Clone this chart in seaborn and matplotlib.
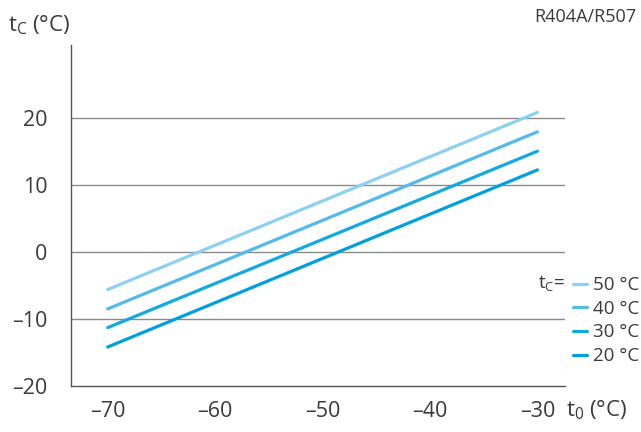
import pandas as pd
import matplotlib
matplotlib.use("Agg")
import matplotlib.pyplot as plt
import seaborn as sns

# data
t0 = [-70, -30]
tc_50 = [-5.6, 20.9]
tc_40 = [-8.5, 18.0]
tc_30 = [-11.3, 15.1]
tc_20 = [-14.2, 12.3]
labels = ["50 °C", "40 °C", "30 °C", "20 °C"]
colors = ["#8dd1f2", "#52bbea", "#13a9e2", "#00a0e0"]
x_ticks = [-70, -60, -50, -40, -30]
y_ticks = [-20, -10, 0, 10, 20]

df = pd.concat([
    pd.DataFrame({"t0": t0, "tc": vals, "cond": lab})
    for vals, lab in zip([tc_50, tc_40, tc_30, tc_20], labels)
])

sns.set_style("white")
plt.rcParams["font.family"] = ["Open Sans", "DejaVu Sans"]
plt.rcParams["mathtext.fontset"] = "custom"
plt.rcParams["mathtext.rm"] = "Open Sans"
plt.rcParams["mathtext.it"] = "Open Sans"

txt = "#3a3a3a"
fig = plt.figure(figsize=(6.41, 4.32), dpi=100)
ax = fig.add_axes([0.111, 0.107, 0.771, 0.789])

for y in [-10, 0, 10, 20]:
    ax.axhline(y, color="#8a8a8a", lw=1.0, zorder=0)

sns.lineplot(data=df, x="t0", y="tc", hue="cond", palette=colors,
             linewidth=2.3, ax=ax, legend=True)

ax.set_xlim(-73.4, -27.4)
ax.set_ylim(-20, 31)
ax.set_xticks(x_ticks)
ax.set_yticks(y_ticks)
ax.set_xticklabels([f"\u2013{abs(v)}" for v in x_ticks])
ax.set_yticklabels([f"\u2013{abs(v)}" if v < 0 else str(v) for v in y_ticks])
ax.tick_params(axis="both", labelsize=15.5, colors="#555555", labelcolor=txt,
               length=7, width=1.0, direction="out")
ax.tick_params(axis="x", pad=4)
ax.tick_params(axis="y", pad=10)
for s in ["top", "right"]:
    ax.spines[s].set_visible(False)
for s in ["left", "bottom"]:
    ax.spines[s].set_color("#555555")
    ax.spines[s].set_linewidth(1.0)
ax.set_xlabel("")
ax.set_ylabel("")

handles, labs = ax.get_legend_handles_labels()
ax.legend(handles, labs, loc="upper left", bbox_to_anchor=(0.882, 0.378),
          bbox_transform=fig.transFigure, frameon=False, fontsize=13.5,
          handlelength=0.75, handletextpad=0.35, labelspacing=0.3,
          borderaxespad=0, labelcolor=txt)

fig.text(0.882, 0.345, r"t$_\mathrm{C}$=", fontsize=13.5, color=txt,
         ha="right", va="center")
fig.text(0.012, 0.942, r"t$_\mathrm{C}$ (°C)", fontsize=16, color=txt, va="center")
fig.text(0.883, 0.05, r"t$_\mathrm{0}$ (°C)", fontsize=16, color=txt, va="center")
fig.text(0.993, 0.96, "R404A/R507", fontsize=13, color=txt, ha="right", va="center")

fig.savefig("out.png", dpi=100)
